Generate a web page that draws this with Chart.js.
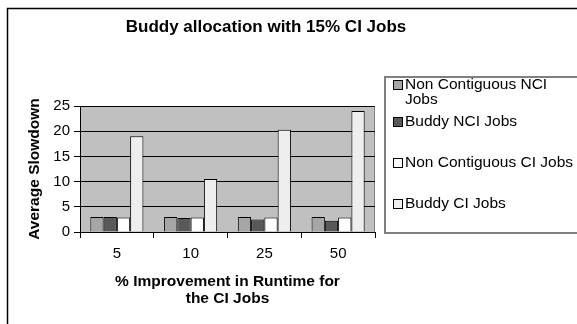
<!DOCTYPE html>
<html>
<head>
<meta charset="utf-8">
<script src="https://cdn.jsdelivr.net/npm/chart.js@4/dist/chart.umd.min.js"></script>
<style>
  html, body { margin: 0; padding: 0; background: #fff; }
  #wrap { width: 577px; height: 324px; position: relative; }
</style>
</head>
<body>
<div id="wrap"><canvas id="chart"></canvas></div>
<script>
// improvement levels on the x axis
var categories = ['5', '10', '25', '50'];

// average slowdown per series
var ncNci = [3.0, 3.0, 3.0, 3.0];
var buddyNci = [3.0, 2.8, 2.5, 2.25];
var ncCi = [2.9, 2.9, 2.9, 2.9];
var buddyCi = [19.0, 10.5, 20.3, 24.0];

var seriesNames = ['Non Contiguous NCI Jobs', 'Buddy NCI Jobs', 'Non Contiguous CI Jobs', 'Buddy CI Jobs'];
var yTicks = [0, 5, 10, 15, 20, 25];
var chartTitle = 'Buddy allocation with 15% CI Jobs';

var fillColors = ['#a6a6a6', '#595959', '#ffffff', '#eeeeee'];
var font = "'Liberation Sans', Arial, sans-serif";

// grey plot background, outer frame and the title
var frame = {
  id: 'frame',
  beforeDraw: function(chart) {
    var ctx = chart.ctx, a = chart.chartArea;
    ctx.save();
    ctx.fillStyle = '#c0c0c0';
    ctx.fillRect(a.left, a.top, a.right - a.left, a.bottom - a.top);
    ctx.strokeStyle = '#808080';
    ctx.lineWidth = 1;
    ctx.strokeRect(a.left + 0.5, a.top + 0.5, a.right - a.left - 1, a.bottom - a.top);
    ctx.restore();
  },
  afterDraw: function(chart) {
    var ctx = chart.ctx;
    ctx.save();
    ctx.strokeStyle = '#000';
    ctx.lineWidth = 1.5;
    ctx.strokeRect(7.5, 8.5, 700, 500);
    ctx.fillStyle = '#000';
    ctx.font = 'bold 17px ' + font;
    ctx.textAlign = 'center';
    ctx.textBaseline = 'middle';
    ctx.fillText(chartTitle, 266, 27);
    ctx.restore();
  }
};

// legend box on the right, first entry wraps onto two lines
var sideLegend = {
  id: 'sideLegend',
  afterDraw: function(chart) {
    var ctx = chart.ctx;
    var rows = [[85, 100], [122], [163], [204]];
    ctx.save();
    ctx.strokeStyle = '#808080';
    ctx.lineWidth = 2;
    ctx.strokeRect(385, 77, 300, 156);
    ctx.font = '15.5px ' + font;
    ctx.textBaseline = 'middle';
    chart.data.datasets.forEach(function(ds, i) {
      var y = rows[i][0];
      ctx.fillStyle = ds.backgroundColor;
      ctx.fillRect(393, y - 5, 10, 10);
      ctx.strokeStyle = '#000';
      ctx.lineWidth = 1;
      ctx.strokeRect(393.5, y - 4.5, 9, 9);
      ctx.fillStyle = '#000';
      if (rows[i].length > 1) {
        var parts = ds.label.split(' ');
        var last = parts.pop();
        ctx.fillText(parts.join(' '), 405, rows[i][0]);
        ctx.fillText(last, 405, rows[i][1]);
      } else {
        ctx.fillText(ds.label, 405, y);
      }
    });
    ctx.restore();
  }
};

var datasets = [ncNci, buddyNci, ncCi, buddyCi].map(function(vals, i) {
  return {
    label: seriesNames[i],
    data: vals,
    backgroundColor: fillColors[i],
    borderColor: '#000',
    borderWidth: 1,
    borderSkipped: 'bottom',
    categoryPercentage: 0.72,
    barPercentage: 1.0
  };
});

new Chart(document.getElementById('chart'), {
  type: 'bar',
  data: { labels: categories, datasets: datasets },
  plugins: [frame, sideLegend],
  options: {
    responsive: true,
    maintainAspectRatio: false,
    animation: false,
    layout: { padding: { left: 8, right: 202, top: 106, bottom: 0 } },
    plugins: {
      legend: { display: false },
      tooltip: { enabled: false },
      title: { display: false }
    },
    scales: {
      x: {
        afterFit: function(scale) { scale.height = 92; },
        grid: { display: true, offset: true, drawOnChartArea: false, tickLength: 6, color: '#000' },
        border: { color: '#000', width: 1 },
        ticks: { color: '#000', font: { family: font, size: 15 }, padding: 7 },
        title: {
          display: true,
          text: ['% Improvement in Runtime for', 'the CI Jobs'],
          color: '#000',
          font: { family: font, size: 15.5, weight: 'bold', lineHeight: 1.1 },
          padding: { top: 0, bottom: 16.5 }
        }
      },
      y: {
        min: 0,
        max: 25,
        afterFit: function(scale) { scale.width = 72; },
        afterBuildTicks: function(scale) {
          scale.ticks = yTicks.map(function(v) { return { value: v }; });
        },
        grid: { color: '#000', tickLength: 6, lineWidth: 1 },
        border: { color: '#000', width: 1 },
        ticks: { color: '#000', font: { family: font, size: 15 }, padding: 4 },
        title: {
          display: true,
          text: 'Average Slowdown',
          color: '#000',
          font: { family: font, size: 15.5, weight: 'bold' },
          padding: { top: 17, bottom: 0 }
        }
      }
    }
  }
});
</script>
</body>
</html>
